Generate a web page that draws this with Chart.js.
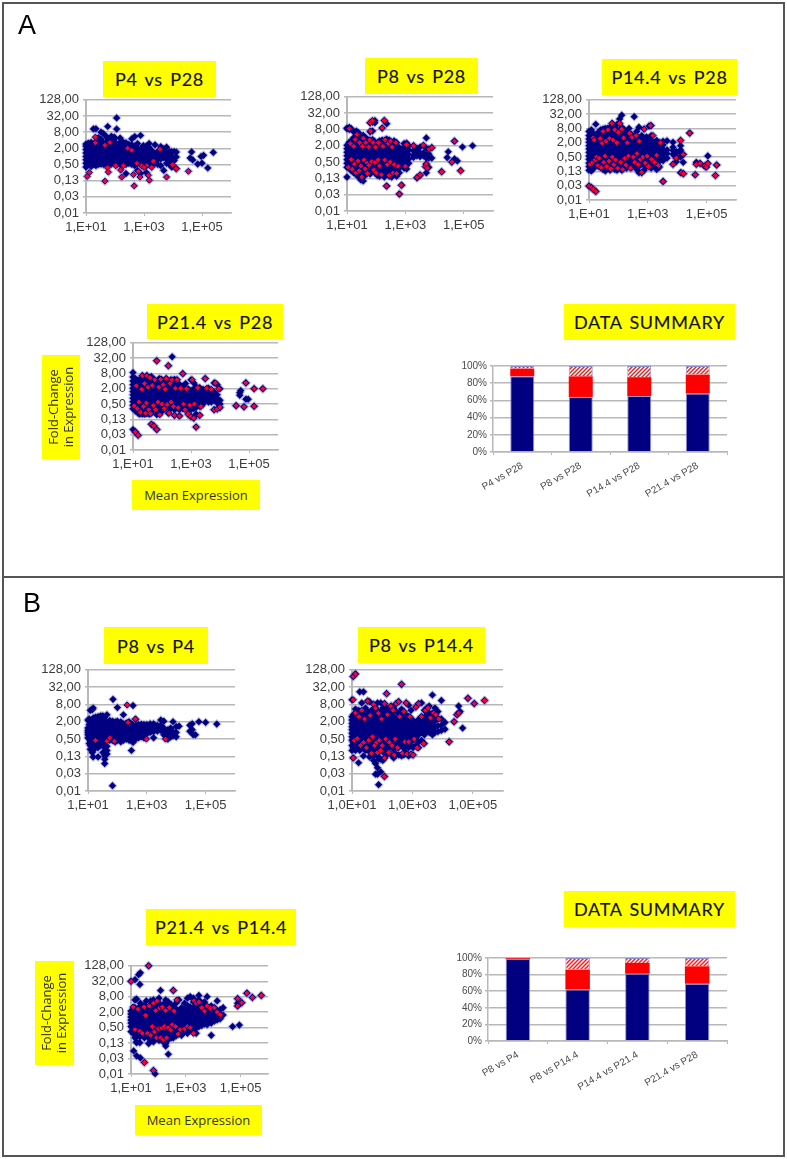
<!DOCTYPE html>
<html>
<head>
<meta charset="utf-8">
<script src="https://cdn.jsdelivr.net/npm/chart.js@4"></script>
<style>
  html, body { margin: 0; background: #fff; }
  #page { position: relative; width: 787px; height: 1159px; overflow: hidden; filter: blur(0.45px); }
  canvas { position: absolute; }
  .line { position: absolute; background: #555; }
  .panel { position: absolute; font: 27px "Liberation Sans", sans-serif; color: #000; }
  .tag { position: absolute; background: #ffff00; color: #111; display: flex; align-items: center; justify-content: center; text-align: center; white-space: nowrap; }
  .title { font: 18px "Lato", sans-serif; letter-spacing: 0.7px; word-spacing: 2px; -webkit-text-stroke: 0.15px #111; }
  .axis { font: 13px "Open Sans", sans-serif; color: #333; line-height: 15px; }
  .axis span { display: block; transform: rotate(-90deg); }
</style>
</head>
<body>
<div id="page"></div>
<script>
// axis ticks
const yTickValues = [0.0078125, 0.03125, 0.125, 0.5, 2, 8, 32, 128];
const yTickLabels = ['0,01', '0,03', '0,13', '0,50', '2,00', '8,00', '32,00', '128,00'];
const xTickValues = [10, 1000, 100000];
const xTickLabels = ['1,E+01', '1,E+03', '1,E+05'];
const xTickLabelsLong = ['1,0E+01', '1,0E+03', '1,0E+05'];

// scatter values, each row is [mean expression, fold-change, fold-change, ...]
const p4P28Blue = [
  [10,.4,.55,.75,1,1.35,1.8,2.4,2.9],[12,.48,.65,.9,1.2,1.6,2.2,3.1],[15,.42,.58,.8,1.1,1.5,2,2.8,3.3],
  [18,.5,.7,.95,1.3,1.75,2.4,3,10.5],[22,.45,.6,.85,1.15,1.55,2.1,2.9,10.6],[27,.5,.7,.95,1.3,1.8,2.5,3.4,5],
  [33,.52,.72,1,1.35,1.85,2.5,3.2,4.4,8],[40,.5,.68,.9,1.25,1.7,2.3,3.1,7],[50,.55,.75,1,1.4,1.9,2.6,3.4,5.5],
  [56,.5,.7,.95,1.3,1.8,2.4,3.2,4.5,13],[75,.52,.72,1,1.35,1.8,2.5,3.5,5,5.6],[95,.55,.75,1.05,1.4,1.9,2.6,4.5,5.2],
  [114,.48,.65,.9,1.2,1.6,2.2,3,10.4,27],[150,.5,.7,.95,1.3,1.8,2.5,3.3,4.8],[190,.55,.75,1,1.4,1.9,2.6,3.4],
  [240,.5,.7,.95,1.3,1.8,2.4,3.2,.23],[300,.55,.8,1.1,1.5,2.1,2.8],[380,.5,.7,1,1.4,1.9,2.7,4.5],
  [480,.45,.65,.9,1.25,1.7,2.4,5.5],[600,.55,.8,1.1,1.5,2,3,.3],[760,.5,.75,1,1.4,1.9,6,.23],
  [950,.5,.7,1,1.3,1.8,2.5],[1200,.45,.7,.95,1.3,1.7,2.4,.25],[1500,.6,.85,1.2,2.2,3],[1900,.5,.8,1.1,1.6],
  [2400,.55,.9,1.3,2.7],[3000,.5,.75,1.05,1.5],[3800,.45,.8,1.2,1.7,2.3],[4800,.3,.9,1.3,1.9],
  [6000,.55,.8,1.05,1.4,2.2],[7600,.5,.65,1.3,1.5],[9000,.4,.75,.9,1,1.5],[11000,.7,1.5],[13000,.35,.95,1.45],
  [39000,.87],[43700,1.47],[48000,.74],[71000,.52],[93000,.99],[100000,.56],[113000,1.1],[158000,.37],[245000,1.4]
];
const p4P28Red = [
  [11,.18],[13,.25],[21,5.2],[21,3.2],[45,.12],[45,2.6],[67,3.3],[55,.38],[59,.26],[105,.45],[157,.31],[170,.17],
  [195,.45],[275,2],[375,1.7],[430,.21],[460,.08],[570,.55],[640,.28],[730,.17],[830,.45],[1230,.45],[1000,.39],
  [1850,.39],[1410,.2],[1530,.13],[2100,.66],[3550,1.84],[6000,.17],[9700,.49],[13000,.35],[34000,.28]
];

const p8P28Blue = [
  [10,.14,.32,.45,.62,.85,1.15,1.55,2.1,8.5,9],[12,.3,.42,.6,.8,1.1,1.5,2,2.7,8,9.5],[14,.24,.34,.48,.66,.9,1.2,1.7,2.3,3,8.5],
  [17,.2,.28,.4,.55,.78,1.05,1.45,2,2.8,4,6.5],[21,.17,.25,.36,.5,.7,.95,1.3,1.8,2.5,3.5,7],[25,.14,.2,.3,.42,.6,.85,1.15,1.6,2.2,3,4.5,6],
  [30,.11,.16,.25,.36,.52,.72,1,1.4,2,2.7,3.8],[36,.1,.14,.22,.32,.47,.66,.9,1.25,1.7,2.4,3.3,4.8],[43,.17,.28,.4,.56,.78,1.1,1.5,2.1,2.9,4],
  [52,.22,.32,.46,.65,.9,1.25,1.75,2.4,3.3],[62,.18,.27,.4,.55,.78,1.05,1.5,2,2.8,6.5,14],[75,.22,.33,.47,.66,.9,1.25,1.7,2.4,3.4,7,15],
  [90,.2,.28,.4,.56,.78,1.1,1.5,2,2.8,14,17],[110,.16,.25,.37,.52,.72,1,1.35,1.85,2.5],[130,.15,.22,.34,.48,.66,.92,1.25,1.7,2.4,3],
  [160,.2,.3,.44,.62,.85,1.15,1.6,2.2,3.2,9],[190,.14,.24,.36,.52,.72,1,1.35,1.85,2.6,17],[230,.065,.19,.3,.44,.62,.85,1.15,1.6,2.2,3.5,13],
  [280,.15,.25,.37,.52,.72,1,1.4,1.9,2.7,3.2],[340,.14,.22,.32,.46,.65,.9,1.25,1.7,2.4],[410,.18,.28,.4,.56,.78,1.1,1.5,2.1,3],
  [500,.15,.25,.48,.7,1,1.4,1.9,2.6],[620,.033,.2,.3,.42,.6,.85,1.2,1.7],[750,.07,.38,.52,.75,1.05,1.45],[900,.3,.46,.65,.9,1.25,1.8,2.4],
  [1100,.28,.42,.6,.85,1.2,1.7,2.5],[1300,.45,.65,.95,1.4,2],[1900,.75,.9,1.3,2],[2500,.13,.85,1.2,1.6],[3200,.16,.8,1.1,1.8],
  [4200,.85,1.1,2],[5200,.2,.33,.42,.7,.9,1.6,3.9],[6300,.32,.7,1,1.5],[8000,.7,1.7],
  [17400,.22],[27000,.73],[29400,1.2],[39000,.5],[48000,.65,2.95],[60000,.55],[78000,.24],[90000,1.8],[200000,2]
];
const p8P28Red = [
  [12,8.5],[11,.32],[13,2.4],[14,.62],[15,.27],[17,1.9],[18,.42],[19,3.4],[20,.2],[22,5.2],[24,.55],[26,.24],[27,2.6],
  [30,.36],[32,.14],[34,1.9],[36,3.8],[38,.6],[42,.28],[44,2.6],[48,.46],[50,.19],[55,1.8],[56,.38],[60,3.3],[62,14],
  [64,7],[70,.52],[74,17],[78,2.6],[82,.26],[90,.48],[95,1.75],[100,.2],[115,.6],[120,2.6],[130,.36],[150,.17],[160,9],
  [170,1.9],[190,17],[195,.6],[200,3.3],[225,.065],[240,.4],[260,2.4],[280,.16],[300,.5],[310,3],[350,1.8],[380,.2],
  [420,.4],[470,2.6],[500,.19],[560,.35],[620,.033],[720,.07],[1000,.35],[1100,2.2],[1900,2],[2500,.135],[3200,.17],
  [4100,2.1],[4800,.34],[5200,.42],[5600,.3],[6500,1.5],[8000,1.7],[17400,.22],[48000,2.95],[39000,.5],[78000,.24]
];

const p14P28Blue = [
  [10,.03,.14,.2,.28,.4,.55,.78,1.1,1.5,2.1,2.9,4,6],[12,.026,.13,.19,.3,.44,.62,.85,1.2,1.65,2.3,3.2,4.5,7],
  [14,.022,.16,.24,.34,.5,.7,.95,1.3,1.8,2.6,3.6,5],[17,.018,.22,.32,.46,.65,.9,1.25,1.7,2.4,3.4,12],
  [21,.2,.28,.4,.56,.78,1.1,1.5,2.1,2.9,4,5.6],[25,.18,.26,.38,.54,.75,1.05,1.45,2,2.8,3.9,7],
  [30,.15,.22,.34,.48,.68,.95,1.3,1.8,2.5,3.5,5,7.5],[36,.13,.2,.3,.44,.62,.85,1.2,1.65,2.3,3.2,4.5,8],
  [43,.17,.26,.38,.54,.75,1.05,1.45,2,2.8,3.9,5.5,8],[52,.14,.22,.34,.5,.7,.95,1.3,1.8,2.5,3.5,5,9],
  [62,.2,.3,.44,.62,.85,1.2,1.65,2.3,3.2,4.5,6.5,13],[75,.15,.24,.36,.52,.72,1,1.4,1.9,2.7,3.8,5.3,9],
  [90,.14,.2,.3,.44,.62,.85,1.2,1.65,2.3,3.2,4.5,7,12],[110,.17,.26,.38,.54,.75,1.05,1.45,2,2.8,3.9,5.5,13,20],
  [130,.14,.22,.34,.48,.68,.95,1.3,1.8,2.5,3.5,5,9,29],[160,.2,.3,.44,.62,.85,1.2,1.65,2.3,3.2,4.5,7],
  [190,.17,.26,.38,.54,.75,1.05,1.45,2,2.8,3.9,6],[230,.22,.34,.48,.68,.95,1.3,1.8,2.5,3.5,5,8],
  [280,.18,.3,.44,.62,.85,1.2,1.65,2.3,3.2,4.5],[345,.25,.38,.54,.75,1.05,1.45,2,2.8,3.9,25],
  [420,.15,.22,.34,.5,.7,.95,1.3,1.8,2.5,3.5,6],[500,.11,.2,.3,.44,.62,.85,1.2,1.65,2.3,3.2,9],
  [620,.11,.26,.38,.54,.75,1.05,1.45,2,2.8,4],[750,.14,.22,.34,.5,.7,.95,1.3,1.8,2.5,7.5],
  [900,.2,.3,.44,.62,.85,1.2,1.7,2.4,3.5],[1100,.25,.38,.54,.75,1.05,1.5,2.1,3,10],
  [1300,.17,.3,.44,.62,.9,1.3,1.8,2.6,4,10.5],[1600,.22,.35,.5,.7,1,1.4,2],[2000,.15,.28,.42,.6,.85,1.2,1.7,2.5],
  [2500,.19,.34,.5,.7,1,1.5,2],[3300,.047,.35,.5,.72,1.05,1.6,2.3],[4500,.45,.7,1,2.4],[7200,.25,.65,.95,1.3,2.1],
  [9300,.32,.45,.55,.85],[13000,.11,.5,.75,1,1.5,2.5],[16000,.1,.3,.65],[26600,5.1],[41000,.09],[44700,.25,.3],
  [60000,.27],[85000,.21],[98000,.19],[110000,.27,.56],[200000,.084],[220000,.23]
];
const p14P28Red = [
  [10,.03],[12,.026],[14,.022],[17,.018],[11,.25],[13,.3],[14,3.2],[15,2.6],[16,.38],[18,.5],[20,.22],[22,.45],[24,3],
  [26,.18],[28,1.9],[30,6],[32,.3],[35,.55],[38,2.3],[40,.2],[44,7],[48,.34],[50,3],[55,.16],[60,13],[62,.5],[66,2.6],
  [70,.24],[75,7],[80,.38],[88,2],[95,.17],[100,5.5],[110,13],[120,.3],[130,7.5],[140,.15],[150,3.2],[165,.44],[180,.23],
  [200,2],[220,.55],[240,5],[260,.17],[290,3.4],[320,.5],[360,.3],[400,4],[430,.7],[470,.24],[510,2.3],[560,.4],[620,.115],
  [680,.5],[750,7.5],[820,.28],[950,.55],[1050,.2],[1230,10.5],[1350,.4],[1500,4],[1700,.3],[2000,.6],[2300,.22],[2700,2],
  [3300,.047],[7200,.25],[9300,.45],[13000,2.5],[13800,.11],[16000,.65],[16500,.1],[26600,5.1],[41000,.09],[44700,.25],
  [60000,.27],[85000,.21],[98000,.19],[110000,.27],[200000,.084],[220000,.23]
];

const p21P28Blue = [
  [10,.05,.33,.45,.62,.85,1.15,1.55,2.1,2.9,4,5.8,8.7],[12,.04,.27,.4,.56,.78,1.05,1.45,1.95,2.7,3.7,5],
  [15,.03,.22,.33,.48,.66,.9,1.25,1.7,2.3,3.2,4.4],[17,.2,.3,.44,.62,.85,1.15,1.55,2.1,2.9,3.9],
  [21,.2,.28,.4,.56,.78,1.05,1.45,1.95,2.7,3.7,5.5,6.5],[25,.2,.33,.48,.66,.9,1.25,1.7,2.3,3.2,5.5],
  [30,.21,.3,.44,.62,.85,1.15,1.55,2.1,2.9,4,6.5],[36,.2,.4,.56,.78,1.05,1.45,1.95,2.7,3.7,5.5],
  [43,.08,.22,.33,.48,.66,.9,1.25,1.7,2.3,3.2,6],[52,.07,.3,.44,.62,.85,1.15,1.55,2.1,2.9,4.5],
  [66,.05,.19,.28,.4,.56,.78,1.05,1.45,1.95,2.7,3.7,25],[80,.33,.48,.66,.9,1.25,1.7,2.3,3.2,5],
  [95,.25,.36,.52,.72,1,1.35,1.85,2.5,3.5,4.7],[115,.3,.44,.62,.85,1.15,1.55,2.1,2.9,4],
  [140,.35,.48,.66,.9,1.25,1.7,2.3,3.2,5],[166,.22,.4,.56,.78,1.05,1.45,1.95,2.7,3.9,16],
  [200,.33,.48,.66,.9,1.25,1.7,2.3,3.2,4.5],[224,.4,.56,.78,1.05,1.45,1.95,2.7,36],
  [270,.18,.3,.44,.62,.85,1.15,1.55,2.1,2.9,4.7],[330,.36,.52,.72,1,1.35,1.85,2.5,4.5],
  [400,.17,.3,.44,.62,.85,1.15,1.55,2.1,3],[520,.33,.5,.7,.95,1.3,1.8,2.5,7.8],[650,.45,.62,.85,1.15,1.55,2.1,3.2],
  [800,.2,.36,.52,.72,1,1.4,2],[1000,.16,.3,.45,.62,.85,1.2,1.7,4.5],[1250,.14,.33,.5,.7,1,1.4,2,3.4],
  [1500,.0625,.2,.37,.55,.8,1.1,1.6,2.4],[2000,.18,.4,.6,.85,1.2,1.7,2.2],[2600,.5,.7,.95,1.35,1.9],
  [3100,.75,1.05,1.5,5],[4000,.6,.85,1.2,1.8,2.1],[5000,.6,.9,1.3],[6300,.3,.7,1.05,1.5,3.4],[8000,.32,.55,.8,1.15,2.9],
  [10000,.36,.5,.7,2],[36000,.43],[48000,1.1,1.4],[52000,1.7],[67000,.39],[78000,.78,3.4],[94000,.78],[150000,.41,2],[300000,2]
];
const p21P28Red = [
  [12,.04],[15,.03],[11,.42],[13,2.6],[14,.33],[16,.6],[18,.24],[20,1.9],[21,6.5],[23,.4],[25,3.2],[27,.22],[29,.55],[30,6.5],
  [33,2.3],[35,.3],[38,5.5],[40,.21],[43,.08],[46,2.7],[50,.44],[52,.07],[56,4.5],[60,.3],[66,25],[66,.05],[72,.6],[78,2.3],
  [84,.19],[90,4.7],[100,.5],[110,2.9],[120,.33],[130,1.9],[140,5],[150,.48],[166,16],[175,.22],[190,3.2],[205,.6],[220,4.5],
  [250,.4],[270,.18],[290,2.1],[330,4.5],[360,.36],[400,.17],[440,2.1],[520,7.8],[550,.5],[620,.3],[700,2],[800,.2],[900,.45],
  [1000,.16],[1100,4.5],[1250,.14],[1300,.5],[1500,.0625],[1700,2.2],[2000,.18],[2200,.4],[3100,5],[3500,2.1],[5000,1.9],
  [6300,.3],[6900,3.4],[8000,.32],[9000,2],[10000,.38],[36000,.43],[67000,.39],[78000,3.4],[150000,.41],[150000,2],[300000,2]
];

const p8P4Blue = [
  [10,.55,.7,.85,1,1.2,2.3],[11,.35,.5,.65,.8,1,1.25,1.6,2.1,2.5],[12,.22,.3,.42,.6,.75,.95,1.2,1.55,2,5],
  [14,.17,.25,.35,.5,.65,.85,1.05,1.35,1.7,2.2,5.3],[15,.12,.2,.3,.45,.6,.8,1,1.25,1.6,2,2.7,6],
  [18,.27,.38,.5,.65,.85,1.1,1.4,1.8,2.4,2.9],[22,.12,.25,.35,.5,.65,.85,1.1,1.45,1.9,2.6,3],
  [27,.3,.42,.55,.72,.95,1.2,1.6,2.1,2.8,3.2],[32,.17,.35,.48,.62,.8,1.05,1.35,1.8,2.4,3.2],
  [37,.07,.1,.13,.25,.45,.58,.75,1,1.3,1.7,2.2,2.8],[44,.15,.2,.28,.5,.65,.85,1.1,1.45,1.9,3.5],[55,.45,.6,.78,1,1.3,1.7,2.2],
  [68,.012,.45,.58,.75,.95,1.25,1.6,2.1],[71,12],[85,.4,.55,.7,.9,1.15,1.5,2],[100,.45,.6,.78,1,1.3,1.7,2.1,6.2],
  [130,.4,.55,.72,.92,1.2,1.55,2],[160,.45,.6,.78,1,1.3,1.7,3.5],[200,.5,.65,.85,1.1,1.4,1.8],[250,.45,.6,.78,1,1.3,1.7,2],
  [300,.2,.45,.6,.78,1,1.3,1.7],[340,.38,.55,.72,.92,1.2,1.55,7.3],[420,.5,.68,.88,1.15,1.5,2.4],[520,.55,.72,.92,1.2,1.6],
  [650,.6,.78,1,1.3,1.65],[800,.55,.72,.95,1.25,1.6],[1000,.75,.98,1.25,1.6],[1300,.85,1.1,1.45,1.7],[1700,.55,.9,1.2,1.5,1.7],
  [2300,.95,1.25,1.5],[3000,1,1.3,1.5,2.3],[3800,.7,.95,1.2,2.1],[5200,.5,.55,.8,1.05],[6500,.6,.8,1,1.2],[7800,.65,.9,2],
  [10000,.6,.85,1.35],[12500,1.4],[29000,.93,1.5],[35000,1.06,1.7],[38000,.7],[45000,.7],[59000,2],[100000,1.9],[240000,1.66]
];
const p8P4Red = [[18,.45],[44,.42],[55,.55],[79,.42],[214,7.6],[230,1.9],[407,2.5],[970,.5],[4300,.5]];

const p8P14Blue = [
  [10,.2,.3,.45,.6,.8,1.05,1.35,1.75,2.3,3,11.6],[11,.11,.25,.38,.52,.7,.9,1.2,1.55,2,2.6,3.5,75],
  [13,.2,.3,.45,.62,.8,1.05,1.35,1.75,2.3,3,4,5.5,92],[15,.25,.38,.52,.7,.9,1.2,1.55,2,2.6,3.5],[16.5,.075,.3,.45,.6,.8,1.05,1.35,1.75,2.3,3,5],
  [18,.2,.38,.52,.7,.9,1.2,1.55,2,2.6,3.5,22],[21,.25,.3,.45,.6,.8,1.05,1.35,1.75,2.3,3,4.5,9],[24,.13,.38,.52,.7,.9,1.2,1.55,2,2.6,3.5,22],
  [28,.2,.3,.45,.62,.8,1.05,1.35,1.75,2.3,3,6],[33,.25,.38,.52,.7,.9,1.2,1.55,2,2.6,3.5,4.5,10.5],[38,.12,.18,.3,.45,.62,.85,1.1,1.45,1.9,2.5,3.3,10],
  [44,.16,.25,.38,.52,.72,.95,1.25,1.7,2.2,3,5],[52,.09,.13,.2,.3,.45,.62,.85,1.1,1.45,1.9,2.5,4,8],[60,.03,.07,.17,.25,.38,.52,.72,.95,1.25,1.7,3,6],
  [70,.03,.05,.13,.2,.3,.45,.62,.85,1.15,1.55,2,2.8,5,9],[76,.013,.1,.17,.25,.38,.55,.75,1,1.35,1.8,3.5],[90,.036,.1,.2,.3,.45,.62,.85,1.15,1.55,2.5,4.5,9],
  [105,.09,.18,.28,.42,.6,.8,1.1,1.5,2,3,6],[120,.025,.11,.22,.36,.5,.7,.95,1.3,1.75,2.4,4,8.5],[140,.14,.3,.45,.62,.85,1.15,1.55,2.2,3.5,6,19],
  [165,.17,.25,.38,.52,.75,1,1.35,1.9,3,5],[200,.14,.3,.45,.62,.85,1.15,1.6,2.3,4,7],[240,.11,.22,.38,.55,.75,1,1.4,2,3,6],
  [290,.15,.3,.45,.65,.9,1.25,1.75,2.6,4.5,8.5],[350,.14,.25,.4,.55,.8,1.1,1.5,2.2,4,10],[436,.13,.3,.45,.7,.95,1.3,1.9,3,5.5,40],
  [520,.14,.24,.4,.6,.85,1.15,1.7,2.6,4.5],[620,.17,.3,.5,.75,1.05,1.45,2.2,3.5,9],[750,.13,.25,.4,.65,.9,1.3,2,3,7.5],
  [900,.15,.3,.5,.78,1.1,1.6,2.5,5],[1050,.14,.25,.45,.7,1,1.4,2.2],[1300,.3,.55,.85,1.25,1.9,6.5],[1600,.25,.4,.7,1.1,1.6,2.4,8.5],
  [2000,.45,.85,1.3,2,3,9],[2500,.35,.7,1.1,1.7,2.5,5],[3000,.9,1.4,2.2,3.5,6],[3600,.85,1.3,2,4,7],[4600,.7,1.1,1.7,2.7,4,17],
  [5600,.85,1.3,2.1,3.5,6],[7000,.9,1.45,2.5,4.5],[9100,1,1.5,2.5,11],[12000,1.1,1.9],[16500,.4],[24000,2],[30000,3.5],[34000,4,7],[38000,4.5],
  [46000,1.2],[69000,13],[112000,8.6],[245000,11]
];
const p8P14Red = [
  [11,75],[13,92],[11,11.6],[11,.11],[12,.45],[13,4],[15,.52],[17,3],[19,.3],[21,5],[24,.38],[26,2.5],[30,.25],[33,10.5],[36,.45],
  [40,3.3],[44,.16],[48,.6],[52,8],[56,.3],[60,6],[66,.38],[70,.17],[75,4],[80,.45],[88,.2],[95,2.5],[100,.3],[120,.11],[120,8.5],
  [117,.025],[130,.5],[140,19],[150,3.5],[165,.17],[175,.38],[190,7],[210,.3],[230,5],[250,.14],[270,.5],[290,8.5],[320,.25],[350,10],
  [380,3],[436,40],[470,.16],[520,4.5],[560,.4],[620,9],[660,.15],[750,.4],[820,3],[900,.15],[1050,.14],[1150,.5],[1300,6.5],[1450,.25],
  [1600,8.5],[2000,3],[2300,.35],[2700,5],[3300,6],[4000,2.7],[5000,4],[6000,3.5],[7500,2.5],[16500,.4],[24000,2],[30000,3.5],[34000,4],
  [69000,13],[112000,8.6],[245000,11]
];

const p21P14Blue = [
  [10,32,.35,.55,.75,1,1.3,1.7,2.2],[12.5,.062,.28,.42,.6,.8,1.05,1.4,1.8,2.4,3],[14,37,.2,.36,.5,.7,.95,1.25,1.6,2.1,3,6],
  [16,.04,.13,.25,.42,.6,.8,1.05,1.4,1.85,2.5,6.5,.14],[19,58,.3,.5,.7,.95,1.25,1.65,2.2,3],[21,24,.13,.22,.36,.55,.75,1,1.35,1.8,2.4,3.2],
  [22,.033,68,.28,.42,.6,.85,1.1,1.5,2,2.8,4.5],[26,.25,.38,.52,.72,.95,1.3,1.7,2.3,3],[31,.022,.2,.32,.45,.62,.85,1.15,1.5,2,2.7,3.8],
  [36,.26,.38,.55,.75,1,1.35,1.8,2.4,3.2,5.5],[44,128,.12,.2,.32,.48,.66,.9,1.2,1.6,2.2,3],[52,.15,.25,.38,.55,.75,1,1.35,1.85,2.5,3.5,5.5],
  [66,.0107,.14,.2,.32,.48,.66,.9,1.2,1.6,2.2,3,6],[76,.008,.18,.28,.42,.6,.8,1.1,1.5,2,2.8,4],[90,.2,.34,.5,.7,.95,1.25,1.7,2.3,3.2,5.5],
  [105,.16,.28,.42,.6,.85,1.15,1.55,2.1,2.9,4.5,7],[120,.17,.32,.48,.66,.9,1.25,1.7,2.3,3.2,14],[150,.14,.25,.38,.55,.75,1,1.4,1.9,2.6,4],
  [185,.096,.12,.2,.32,.48,.66,.9,1.2,1.65,2.3,3.5,6],[230,.046,.17,.28,.42,.6,.85,1.15,1.55,2.1,3,5],[290,.2,.34,.5,.7,.95,1.3,1.75,2.5,4],
  [350,.2,.3,.45,.62,.85,1.15,1.6,2.2,3.2,14],[440,.24,.38,.55,.75,1,1.4,1.9,2.7,4.5],[560,.28,.42,.6,.85,1.15,1.6,2.3,6],
  [700,.25,.36,.52,.72,1,1.4,2,3],[900,.35,.5,.7,.95,1.3,1.8,2.6,4.5],[1150,.3,.45,.62,.85,1.2,1.6,2.3,3.6,7],[1450,.4,.58,.8,1.1,1.5,2.1,3.2,8],
  [1900,.36,.52,.72,1,1.4,2,3,5,7],[2400,.3,.48,.68,.95,1.3,1.9,2.8,4.5],[3000,.55,.78,1.1,1.5,2.2,3.5,6,9],[3800,.6,.85,1.2,1.75,2.6,4.5],
  [4800,.7,.95,1.35,2,3,5],[6000,.65,.9,1.3,1.9,2.8,8],[8500,.25,.75,1.05,1.5,2.2,3.5],[11000,.9,1.25,1.9,3],[14000,1,1.5,2.3,5.5],
  [18000,1.1,1.6,2.5],[23000,1.55,3],[51000,.55],[78000,3.5,4.5,6.7],[90000,.63],[110000,4.7],[170000,11],[270000,7.5],[570000,9]
];
const p21P14Red = [
  [10,32],[44,128],[31,.022],[66,.0107],[12,3.2],[14,.42],[18,2.6],[21,.36],[26,.3],[30,3.2],[34,1.5],[40,.3],[46,3.5],[52,.25],[60,.55],
  [66,4.5],[72,.34],[80,2.3],[85,.2],[90,5.5],[100,.45],[110,2.9],[120,.2],[130,.48],[140,3.2],[150,.17],[165,.55],[185,2.3],[200,.2],
  [225,.5],[250,3],[280,.4],[320,.65],[350,14],[370,2.2],[420,.55],[470,6],[520,.28],[620,.42],[900,.45],[1150,.55],[1450,.5],[1900,.3],
  [2000,5.5],[2400,4.5],[3000,5],[3800,3],[4800,2.2],[6000,3.5],[8000,2.8],[11000,3],[14000,2],[18000,1.6],[78000,3.5],[78000,6.7],
  [110000,4.7],[170000,11],[270000,7.5],[570000,9]
];

// summary bars, percent of genes
const summaryACategories = ['P4 vs P28', 'P8 vs P28', 'P14.4 vs P28', 'P21.4 vs P28'];
const summaryABlue = [88, 64, 65, 68];
const summaryARed = [9, 24, 22, 22];
const summaryAHatch = [3, 12, 13, 10];

const summaryBCategories = ['P8 vs P4', 'P8 vs P14.4', 'P14.4 vs P21.4', 'P21.4 vs P28'];
const summaryBBlue = [99, 62, 81, 69];
const summaryBRed = [1, 24, 13, 21];
const summaryBHatch = [0, 14, 6, 10];

const page = document.getElementById('page');
const GRID = '#b8b8b8';

function addBox(cls, x, y, w, h, text) {
  const el = document.createElement('div');
  el.className = cls;
  el.style.cssText = `left:${x}px;top:${y}px;width:${w}px;height:${h}px`;
  el.innerHTML = text;
  page.appendChild(el);
}

function addCanvas(x, y, w, h) {
  const c = document.createElement('canvas');
  c.width = w; c.height = h;
  c.style.left = x + 'px'; c.style.top = y + 'px';
  page.appendChild(c);
  return c;
}

function expand(rows) {
  return rows.flatMap(([x, ...ys]) => ys.map(y => ({ x, y })));
}

function scatter(left, right, top, bottom, blue, red, xLabels) {
  const canvas = addCanvas(left - 50, top - 10, right - left + 62, bottom - top + 38);
  const bluePoints = expand(blue);
  const redPoints = red.map(([x, y]) => ({ x, y }));
  new Chart(canvas, {
    type: 'scatter',
    data: {
      datasets: [
        // red on top, then the navy markers, then their pale halo underneath
        { data: redPoints, pointStyle: 'rectRot', pointRadius: 3, backgroundColor: '#ff0026', borderColor: '#000080', borderWidth: 1, clip: false, order: 1 },
        { data: bluePoints, pointStyle: 'rectRot', pointRadius: 3.6, backgroundColor: '#000080', borderWidth: 0, clip: false, order: 2 },
        { data: bluePoints.concat(redPoints), pointStyle: 'rectRot', pointRadius: 5, backgroundColor: 'rgba(130,130,220,0.5)', borderWidth: 0, clip: false, order: 3 }
      ]
    },
    options: {
      responsive: false,
      animation: false,
      devicePixelRatio: 1,
      layout: { padding: { top: 10, right: 12, left: 0, bottom: 0 } },
      plugins: { legend: { display: false }, tooltip: { enabled: false } },
      scales: {
        x: {
          type: 'logarithmic', min: 10, max: 1000000,
          afterBuildTicks: s => { s.ticks = xTickValues.map(value => ({ value })); },
          afterFit: s => { s.height = 28; },
          ticks: { callback: (v, i) => xLabels[i], autoSkip: false, maxRotation: 0, color: '#3c3c3c', padding: 4, font: { family: 'Liberation Sans', size: 13 } },
          grid: { drawOnChartArea: false, color: GRID, tickLength: 3 },
          border: { color: GRID, width: 1.5 }
        },
        y: {
          type: 'logarithmic', min: yTickValues[0], max: 128,
          afterBuildTicks: s => { s.ticks = yTickValues.map(value => ({ value })); },
          afterFit: s => { s.width = 50; },
          ticks: { callback: (v, i) => yTickLabels[i], autoSkip: false, color: '#3c3c3c', padding: 4, font: { family: 'Liberation Sans', size: 13 } },
          grid: { color: GRID, lineWidth: 1.5, tickLength: 3 },
          border: { color: GRID, width: 2 }
        }
      }
    }
  });
}

function hatchPattern() {
  const c = document.createElement('canvas');
  c.width = 4; c.height = 4;
  const g = c.getContext('2d');
  g.fillStyle = '#fff';
  g.fillRect(0, 0, 4, 4);
  g.strokeStyle = '#f02020';
  g.lineWidth = 1.5;
  g.beginPath();
  g.moveTo(-1, 5); g.lineTo(5, -1);
  g.moveTo(-3, 3); g.lineTo(3, -3);
  g.moveTo(1, 7); g.lineTo(7, 1);
  g.stroke();
  return g.createPattern(c, 'repeat');
}

function summary(left, right, top, bottom, categories, blue, red, hatch) {
  const canvas = addCanvas(left - 50, top - 10, right - left + 62, bottom - top + 80);
  const ctx = canvas.getContext('2d');
  const edge = 'rgba(120,120,210,0.8)';
  new Chart(ctx, {
    type: 'bar',
    data: {
      labels: categories,
      datasets: [
        { data: blue, backgroundColor: '#000080', borderColor: edge, borderWidth: 1 },
        { data: red, backgroundColor: '#ff0000', borderWidth: 0 },
        { data: hatch, backgroundColor: hatchPattern(), borderColor: edge, borderWidth: 1 }
      ]
    },
    options: {
      responsive: false,
      animation: false,
      devicePixelRatio: 1,
      layout: { padding: { top: 10, right: 12, left: 0, bottom: 0 } },
      datasets: { bar: { categoryPercentage: 1, barPercentage: 0.41 } },
      plugins: { legend: { display: false }, tooltip: { enabled: false } },
      scales: {
        x: {
          stacked: true,
          afterFit: s => { s.height = 70; },
          ticks: { autoSkip: false, minRotation: 30, maxRotation: 30, color: '#4a4a4a', padding: 5, font: { family: 'Liberation Sans', size: 10 } },
          grid: { drawOnChartArea: false, color: GRID, tickLength: 3 },
          border: { color: GRID, width: 1.5 }
        },
        y: {
          stacked: true, min: 0, max: 100,
          afterFit: s => { s.width = 50; },
          ticks: { stepSize: 20, callback: v => v + '%', color: '#4a4a4a', padding: 3, font: { family: 'Liberation Sans', size: 10 } },
          grid: { color: GRID, lineWidth: 1.5, tickLength: 3 },
          border: { color: GRID, width: 1.5 }
        }
      }
    }
  });
}

// frames and panel letters
addBox('line', 2, 2, 783, 2, '');
addBox('line', 2, 2, 2, 1155, '');
addBox('line', 783, 2, 2, 1155, '');
addBox('line', 2, 1155, 783, 2, '');
addBox('line', 2, 576, 783, 2, '');
addBox('panel', 18, 10, 24, 32, 'A');
addBox('panel', 23, 588, 24, 32, 'B');

// yellow labels
addBox('tag title', 103, 61, 113, 36, 'P4 vs P28');
addBox('tag title', 365, 58, 113, 36, 'P8 vs P28');
addBox('tag title', 602, 59, 135, 36, 'P14.4 vs P28');
addBox('tag title', 147, 304, 136, 35, 'P21.4 vs P28');
addBox('tag title', 564, 304, 171, 36, 'DATA SUMMARY');
addBox('tag title', 104, 627, 104, 37, 'P8 vs P4');
addBox('tag title', 358, 627, 127, 36, 'P8 vs P14.4');
addBox('tag title', 146, 909, 150, 36, 'P21.4 vs P14.4');
addBox('tag title', 564, 891, 171, 36, 'DATA SUMMARY');
addBox('tag axis', 42, 355, 38, 104, '<span>Fold-Change<br>in Expression</span>');
addBox('tag axis', 132, 480, 128, 30, 'Mean Expression');
addBox('tag axis', 35, 961, 39, 104, '<span>Fold-Change<br>in Expression</span>');
addBox('tag axis', 135, 1105, 127, 30, 'Mean Expression');

// panel A
scatter(86, 231, 98, 213, p4P28Blue, p4P28Red, xTickLabels);
scatter(347, 493, 95, 211, p8P28Blue, p8P28Red, xTickLabels);
scatter(589, 736, 98, 200, p14P28Blue, p14P28Red, xTickLabels);
scatter(133, 278, 341, 450, p21P28Blue, p21P28Red, xTickLabels);
summary(493, 727, 366, 452, summaryACategories, summaryABlue, summaryARed, summaryAHatch);

// panel B
scatter(88, 235, 668, 791, p8P4Blue, p8P4Red, xTickLabels);
scatter(352, 503, 668, 791, p8P14Blue, p8P14Red, xTickLabelsLong);
scatter(131, 268, 964, 1074, p21P14Blue, p21P14Red, xTickLabels);
summary(488, 727, 958, 1041, summaryBCategories, summaryBBlue, summaryBRed, summaryBHatch);
</script>
</body>
</html>
